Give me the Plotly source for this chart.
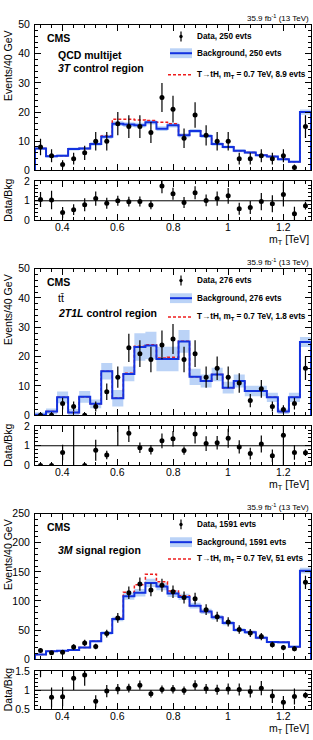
import numpy as np
import plotly.graph_objects as go

W, H = 313, 740

mt_edges = [0.30, 0.34, 0.38, 0.42, 0.46, 0.50, 0.54, 0.58, 0.62, 0.66, 0.70, 0.74, 0.78,
            0.82, 0.86, 0.90, 0.94, 0.98, 1.02, 1.06, 1.10, 1.14, 1.18, 1.22, 1.26, 1.30]
x_tick_vals = [0.4, 0.6, 0.8, 1.0, 1.2]
x_tick_text = ["0.4", "0.6", "0.8", "1", "1.2"]

# Panel 1: QCD multijet, 3T control region
qcd_data = [8, 5, 2, 4, 6, 10, 10, 16, 15, 15, 13, 25, 21, 11, 19, 12, 10, 10, 4, 4, 5, 4, 5, 1, 15]
qcd_bkg = [7.5, 4.8, 5.0, 7.3, 7.5, 9.0, 11.5, 16.0, 15.7, 15.5, 16.5, 14.3, 15.5, 12.0, 13.5,
           11.8, 9.0, 8.0, 6.7, 6.1, 5.2, 4.7, 3.8, 2.9, 20.0]
qcd_unc = [0.5, 0.4, 0.4, 0.5, 0.5, 0.6, 0.7, 0.8, 0.8, 0.8, 0.8, 0.8, 0.8, 0.7, 0.7,
           0.7, 0.6, 0.5, 0.5, 0.5, 0.4, 0.4, 0.4, 0.3, 0.9]
qcd_sig = [0, 0, 0, 0, 0, 0.1, 0.3, 1.5, 1.8, 1.8, 0.6, 2.2, 0.5, 0.1, 0,
           0, 0, 0, 0, 0, 0, 0, 0, 0, 0]

# Panel 2: ttbar, 2T1L control region
tt_data = [0, 0, 4, 3, 0, 3, 8, 13, 23, 21, 19, 24, 26, 19, 21, 13, 16, 13, 11, 5, 9, 3, 2, 4, 16]
tt_bkg = [0.2, 1.3, 6.1, 0.9, 6.3, 3.9, 15.0, 5.8, 14.1, 23.3, 23.8, 19.2, 19.2, 25.2, 13.1,
          11.7, 13.9, 9.4, 11.7, 8.3, 8.3, 6.1, 1.3, 6.1, 25.0]
tt_unc = [0.8, 1.0, 2.0, 1.2, 2.0, 1.5, 2.8, 2.8, 2.5, 4.7, 4.7, 4.2, 4.2, 3.9, 2.8,
          2.2, 2.3, 2.0, 2.2, 1.8, 1.8, 1.6, 0.9, 1.6, 1.7]
tt_sig = [0, 0, 0, 0, 0, 0, 0.05, 0.1, 0.2, 0.25, 0.25, 0.3, 0.6, 0.05, 0,
          0, 0, 0, 0, 0, 0, 0, 0, 0, 0]

# Panel 3: 3M signal region
sr_data = [15, 11, 12, 21, 28, 22, 44, 71, 114, 129, 119, 127, 116, 106, 104, 85, 73, 64, 51, 45,
           39, 25, 20, 18, 132]
sr_bkg = [8, 13.5, 14.5, 16, 20, 31, 45, 69, 108, 114, 131, 125, 113, 107, 92, 82, 72, 62, 50, 46.5,
          37, 29.5, 29, 21.5, 152]
sr_unc = [1, 1.2, 1.2, 1.3, 1.5, 2, 3, 4, 6, 6.5, 7, 6.5, 6, 5.5, 5, 4.5, 4, 3.5, 3, 3,
          2.5, 2, 2, 1.8, 5]
sr_sig = [0, 0, 0, 0, 0, 0, 0, 1, 7, 14, 15, 8, 4, 2, 0, 0, 0, 0, 0, 0, 0, 0, 0, 0, 0]

panel_labels = [
    ["<b>QCD multijet</b>", "<b><i>3T</i> control region</b>"],
    ["tt\u0304", "<b><i>2T1L</i> control region</b>"],
    ["<b><i>3M</i> signal region</b>"],
]
legend_data = ["Data, 250 evts", "Data, 276 evts", "Data, 1591 evts"]
legend_bkg = ["Background, 250 evts", "Background, 276 evts", "Background, 1591 evts"]
legend_sig = ["T\u2192tH, m<sub>T</sub> = 0.7 TeV, 8.9 evts",
              "T\u2192tH, m<sub>T</sub> = 0.7 TeV, 1.8 evts",
              "T\u2192tH, m<sub>T</sub> = 0.7 TeV, 51 evts"]

panels = [
    dict(data=qcd_data, bkg=qcd_bkg, unc=qcd_unc, sig=qcd_sig, ymax=50, ydt=10, ymin_dt=2,
         rr=[0, 2], rdt=1, rmin=0.2, main=(19, 167), ratio=(178, 218),
         leg=(31, 48, 70), lab=[50, 63]),
    dict(data=tt_data, bkg=tt_bkg, unc=tt_unc, sig=tt_sig, ymax=50, ydt=10, ymin_dt=2,
         rr=[0, 2], rdt=1, rmin=0.2, main=(267, 416), ratio=(427, 467),
         leg=(279, 297, 316), lab=[297, 312]),
    dict(data=sr_data, bkg=sr_bkg, unc=sr_unc, sig=sr_sig, ymax=250, ydt=50, ymin_dt=10,
         rr=[0.5, 1.5], rdt=0.5, rmin=0.1, main=(516, 664), ratio=(676, 715),
         leg=(527, 545, 562), lab=[553]),
]

FONT = "Liberation Sans, Arial, Helvetica, sans-serif"
BLUE = "#1232e0"
RED = "#ee1c1c"
BAND = "rgba(120,168,240,0.5)"


def px_x(p):
    return p / W


def px_y(p):
    return 1 - p / H


fig = go.Figure()
layout = dict(width=W, height=H, margin=dict(l=0, r=0, t=0, b=0),
              paper_bgcolor="white", plot_bgcolor="white", showlegend=False,
              font=dict(family=FONT, size=10, color="black"))
annotations = []
shapes = []

edges = np.array(mt_edges)
centers = 0.5 * (edges[:-1] + edges[1:])
xdom = [px_x(35), px_x(311)]


def axis_common():
    return dict(showline=True, linecolor="black", linewidth=1, mirror="allticks",
                ticks="inside", ticklen=6, tickwidth=1, tickcolor="black",
                showgrid=False, zeroline=False,
                tickfont=dict(family=FONT, size=10.5, color="black"))


for i, p in enumerate(panels):
    ma = 2 * i + 1
    ra = 2 * i + 2
    xm, ym = f"x{ma}", f"y{ma}"
    xr, yr = f"x{ra}", f"y{ra}"
    data = np.array(p["data"], float)
    bkg = np.array(p["bkg"], float)
    unc = np.array(p["unc"], float)
    sig = np.array(p["sig"], float)

    # band
    xs = list(edges[:-1]) + [edges[-1]]
    lo = list(bkg - unc) + [bkg[-1] - unc[-1]]
    hi = list(bkg + unc) + [bkg[-1] + unc[-1]]
    fig.add_trace(go.Scatter(x=xs, y=lo, mode="lines", line=dict(width=0, shape="hv"),
                             xaxis=xm, yaxis=ym, hoverinfo="skip"))
    fig.add_trace(go.Scatter(x=xs, y=hi, mode="lines", line=dict(width=0, shape="hv"),
                             fill="tonexty", fillcolor=BAND, xaxis=xm, yaxis=ym, hoverinfo="skip"))
    # signal + background (dashed red)
    tot = bkg + sig
    xstep = [edges[0]] + list(edges[:-1]) + [edges[-1], edges[-1]]
    fig.add_trace(go.Scatter(x=xstep, y=[0] + list(tot) + [tot[-1], 0], mode="lines",
                             line=dict(color=RED, width=1.5, dash="3px,2px", shape="hv"),
                             xaxis=xm, yaxis=ym, hoverinfo="skip"))
    # background line
    fig.add_trace(go.Scatter(x=xstep, y=[0] + list(bkg) + [bkg[-1], 0], mode="lines",
                             line=dict(color=BLUE, width=2, shape="hv"),
                             xaxis=xm, yaxis=ym, hoverinfo="skip"))
    # data
    fig.add_trace(go.Scatter(x=centers, y=data, mode="markers",
                             marker=dict(color="black", size=5),
                             error_y=dict(type="data", array=np.sqrt(data), color="black",
                                          thickness=1.2, width=0),
                             xaxis=xm, yaxis=ym, hoverinfo="skip"))
    # ratio
    ratio = data / bkg
    rerr = np.sqrt(data + (data * unc / bkg) ** 2) / bkg
    fig.add_trace(go.Scatter(x=centers, y=ratio, mode="markers",
                             marker=dict(color="black", size=5),
                             error_y=dict(type="data", array=rerr, color="black",
                                          thickness=1.2, width=0),
                             xaxis=xr, yaxis=yr, hoverinfo="skip"))

    mt, mb = p["main"]
    rt, rb = p["ratio"]
    for axn, anc in ((ma, ym), (ra, yr)):
        ax = axis_common()
        ax.update(domain=xdom, range=[0.3, 1.3], tick0=0.4, dtick=0.2, anchor=anc,
                  showticklabels=False,
                  minor=dict(ticks="inside", ticklen=3, tick0=0.4, dtick=0.04, tickcolor="black"))
        layout[f"xaxis{axn}"] = ax
    ay = axis_common()
    ay.update(domain=[px_y(mb), px_y(mt)], range=[0, p["ymax"]], dtick=p["ydt"], tick0=0,
              anchor=xm, ticklabelstandoff=2,
              minor=dict(ticks="inside", ticklen=3, dtick=p["ymin_dt"], tickcolor="black"))
    layout[f"yaxis{ma}"] = ay
    ay = axis_common()
    ay.update(domain=[px_y(rb), px_y(rt)], range=p["rr"], dtick=p["rdt"], tick0=0,
              anchor=xr, ticklabelstandoff=2,
              minor=dict(ticks="inside", ticklen=3, dtick=p["rmin"], tickcolor="black"))
    layout[f"yaxis{ra}"] = ay

    # x tick labels of the ratio pad, placed at the axis values
    for v, t in zip(x_tick_vals, x_tick_text):
        annotations.append(dict(text=t, x=v, xref=xr, y=px_y(rb + 7), yref="paper",
                                xanchor="center", yanchor="middle", showarrow=False,
                                font=dict(family=FONT, size=10.5)))

    # ratio line at 1
    shapes.append(dict(type="line", xref=f"{xr} domain", yref=yr, x0=0, x1=1, y0=1, y1=1,
                       line=dict(color="black", width=1)))

    # texts
    annotations.append(dict(text="35.9 fb<sup>-1</sup> (13 TeV)", x=px_x(311), y=px_y(mt - 7),
                            xref="paper", yref="paper", xanchor="right", yanchor="middle",
                            showarrow=False, font=dict(family=FONT, size=8)))
    annotations.append(dict(text="<b>CMS</b>", x=px_x(45), y=px_y(mt + 14),
                            xref="paper", yref="paper", xanchor="left", yanchor="middle",
                            showarrow=False, font=dict(family=FONT, size=10.5)))
    for txt, yy in zip(panel_labels[i], p["lab"]):
        annotations.append(dict(text=txt, x=px_x(56), y=px_y(yy),
                                xref="paper", yref="paper", xanchor="left", yanchor="middle",
                                showarrow=False, font=dict(family=FONT, size=10.5)))
    annotations.append(dict(text="Events/40 GeV", x=px_x(8), y=px_y(mt + 42), textangle=-90,
                            xref="paper", yref="paper", xanchor="center", yanchor="middle",
                            showarrow=False, font=dict(family=FONT, size=10.5)))
    annotations.append(dict(text="Data/Bkg", x=px_x(8), y=px_y((rt + rb) / 2), textangle=-90,
                            xref="paper", yref="paper", xanchor="center", yanchor="middle",
                            showarrow=False, font=dict(family=FONT, size=10.5)))
    annotations.append(dict(text="m<sub>T</sub> [TeV]", x=px_x(311), y=px_y(rb + 20),
                            xref="paper", yref="paper", xanchor="right", yanchor="middle",
                            showarrow=False, font=dict(family=FONT, size=10.5)))

    # legend
    ld, lb, ls = p["leg"]
    for txt, yy in zip([legend_data[i], legend_bkg[i], legend_sig[i]], [ld, lb, ls]):
        annotations.append(dict(text="<b>" + txt + "</b>", x=px_x(195), y=px_y(yy),
                                xref="paper", yref="paper", xanchor="left", yanchor="middle",
                                showarrow=False, font=dict(family=FONT, size=8.2)))
    shapes.append(dict(type="line", xref="paper", yref="paper", x0=px_x(181), x1=px_x(181),
                       y0=px_y(ld - 5), y1=px_y(ld + 5), line=dict(color="black", width=1.2)))
    shapes.append(dict(type="circle", xref="paper", yref="paper", x0=px_x(179.3), x1=px_x(182.7),
                       y0=px_y(ld - 1.7), y1=px_y(ld + 1.7), fillcolor="black",
                       line=dict(color="black", width=0)))
    shapes.append(dict(type="rect", xref="paper", yref="paper", x0=px_x(170), x1=px_x(192),
                       y0=px_y(lb - 5), y1=px_y(lb + 5), fillcolor=BAND, line=dict(width=0)))
    shapes.append(dict(type="line", xref="paper", yref="paper", x0=px_x(170), x1=px_x(192),
                       y0=px_y(lb), y1=px_y(lb), line=dict(color=BLUE, width=2)))
    shapes.append(dict(type="line", xref="paper", yref="paper", x0=px_x(168), x1=px_x(192),
                       y0=px_y(ls), y1=px_y(ls),
                       line=dict(color=RED, width=1.5, dash="3px,2px")))

layout["annotations"] = annotations
layout["shapes"] = shapes
fig.update_layout(**layout)
fig.write_html("out.html")
